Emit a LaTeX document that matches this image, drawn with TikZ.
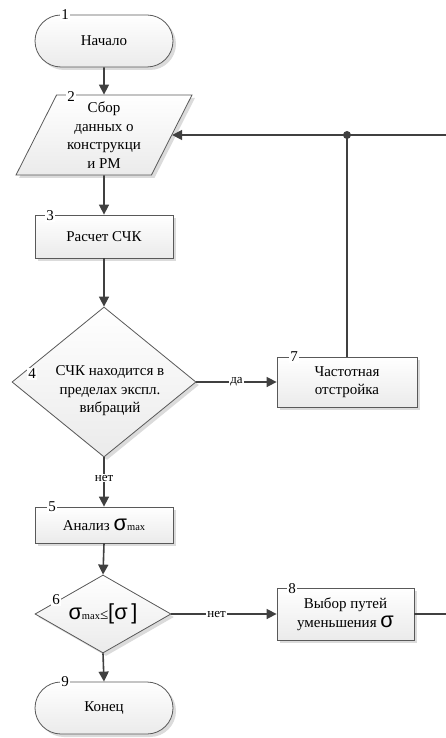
\documentclass[tikz,border=0pt]{standalone}
\usepackage{fontspec}
\setmainfont{Liberation Serif}
\newfontfamily\txtfont{Liberation Serif}
\newfontfamily\sigfont[Scale=1.45]{Liberation Sans}
\usetikzlibrary{arrows.meta,shapes.geometric,shadows}

\newcommand{\sg}{{\sigfont σ}}
\newcommand{\smax}{\sg{\fontsize{10.5pt}{10pt}\selectfont max}}

\tikzset{
  blk/.style={draw=black!65, line width=0.8pt, top color=white, bottom color=black!8,
    drop shadow={shadow xshift=3pt, shadow yshift=-3pt, fill=black!14, opacity=1},
    align=center, inner sep=2pt},
  proc/.style={blk, rectangle, minimum width=138pt},
  term/.style={blk, rectangle, rounded corners=26pt, minimum width=138pt, minimum height=52pt},
  data/.style={blk, trapezium, trapezium left angle=64.6, trapezium right angle=115.4,
    trapezium stretches=true, minimum width=176pt, minimum height=80pt, inner sep=0pt},
  cond/.style={blk, diamond, inner sep=0pt},
  num/.style={fill=white, inner sep=1pt},
  lbl/.style={fill=white, inner sep=1pt, font=\txtfont\fontsize{13pt}{14pt}\selectfont},
  line/.style={draw=black!75, line width=1.6pt},
  flow/.style={line, -{Triangle[length=10pt,width=10pt]}}
}

\begin{document}
\begin{tikzpicture}[x=1pt,y=-1pt,font=\txtfont\fontsize{15pt}{18.5pt}\selectfont]
\useasboundingbox (0,0) rectangle (446,738);
\clip (0,0) rectangle (446,738);

% Main column
\node[term] (t1) at (104,41) {Начало};
\node[data] (dat) at (104,135) {Сбор\\данных о\\конструкци\\и РМ};
\node[proc, minimum height=43pt] (b3) at (104,236.5) {Расчет СЧК};
\node[cond, minimum width=184pt, minimum height=150pt] (d4) at (104,382) {};
\node[align=center] (t4) at (110,391) {СЧК находится в\\пределах экспл.\\вибраций};
\node[proc, minimum height=36pt] (b5) at (104,525) {Анализ \smax};
\node[cond, aspect=1.75, minimum width=136pt, minimum height=78pt] (d6) at (103,614)
  {\smax≤{\sigfont[}\sg\ {\sigfont]}};
\node[term] (t9) at (104,708) {Конец};

% Side blocks
\node[proc, minimum width=140pt, minimum height=50pt] (b7) at (347,382) {Частотная\\отстройка};
\node[proc, minimum width=137pt, minimum height=52pt] (b8) at (345.5,614) {Выбор путей\\уменьшения \sg};

% Block numbers
\node[num] (n1) at (65,15) {1};
\node[num] (n2) at (71,97) {2};
\node[num] (n3) at (50,216) {3};
\node[num] (n4) at (32,374) {4};
\node[num] (n5) at (52,507) {5};
\node[num] (n6) at (56,600) {6};
\node[num] (n7) at (294,357) {7};
\node[num] (n8) at (292,589) {8};
\node[num] (n9) at (65,682) {9};

% Connectors
\draw[flow] (t1.south) -- (dat.north);
\draw[flow] (dat.south) -- (b3.north);
\draw[flow] (b3.south) -- (d4.north);
\draw[flow] (d4.south) -- node[lbl, pos=0.42] (l4) {нет} (b5.north);
\draw[flow] (d4.east) -- node[lbl] (l7) {да} (b7.west);
\draw[flow] (b5.south) -- (d6.north);
\draw[flow] (d6.east) -- node[lbl, pos=0.43] (l6) {нет} (b8.west);
\draw[flow] (d6.south) -- (t9.north);

% Return loop
\coordinate (rt) at (452,0);
\draw[flow] (b8.east) -- (b8.east -| rt) -- (dat.east -| rt) -- (dat.east);
\draw[line] (b7.north) -- (b7.north |- dat.east) coordinate (jn);
\fill[black!75] (jn) circle (4pt);
\end{tikzpicture}
\end{document}
